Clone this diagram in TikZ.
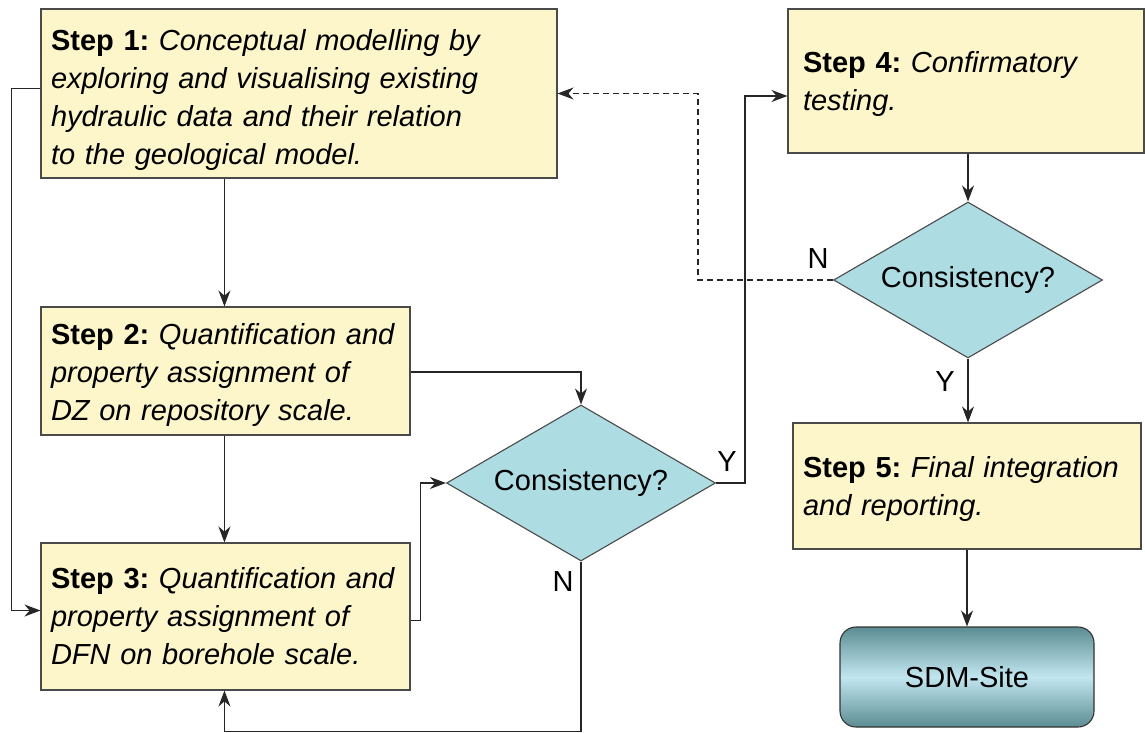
\documentclass[tikz,border=0pt]{standalone}
\usepackage{fontspec}
\setmainfont{Liberation Sans}
\usetikzlibrary{shapes.geometric,arrows.meta,calc}
\definecolor{boxyellow}{HTML}{FCF6CA}
\definecolor{boxedge}{HTML}{4A4A4A}
\definecolor{diafill}{HTML}{ADDCE2}
\definecolor{sdmdark}{HTML}{5C8D93}
\definecolor{sdmlight}{HTML}{C2E6F0}
\newcommand{\upr}[1]{\rule{0pt}{#1}}
\begin{document}
\frenchspacing
\begin{tikzpicture}[x=1pt,y=-1pt,
  font=\fontsize{29}{38}\selectfont,
  stepbox/.style={draw=boxedge,line width=1.1pt,fill=boxyellow,align=left,inner ysep=0pt,inner xsep=10pt},
  decision/.style={diamond,aspect=1.72,draw=boxedge,line width=1.1pt,fill=diafill,inner sep=0pt,minimum width=269pt,minimum height=156pt},
  arr/.style={line width=1.2pt,draw=black!85,-{Stealth[length=16pt,width=12pt]}},
  lbl/.style={inner sep=0pt}]
\useasboundingbox (0,0) rectangle (1145,733);

\node[stepbox,text width=496pt,minimum height=169pt] (s1) at (299,93.5)
  {\upr{35pt}\textbf{Step 1:} \textit{Conceptual modelling by}\\\textit{exploring and visualising existing}\\\textit{hydraulic data and their relation}\\\textit{to the geological model.}};
\node[stepbox,text width=349pt,minimum height=128pt] (s2) at (225.5,371)
  {\upr{29pt}\textbf{Step 2:} \textit{Quantification and}\\\textit{property assignment of}\\\textit{DZ on repository scale.}};
\node[stepbox,text width=349pt,minimum height=147pt] (s3) at (225.5,616.5)
  {\textbf{Step 3:} \textit{Quantification and}\\\textit{property assignment of}\\\textit{DFN on borehole scale.}};
\node[stepbox,inner xsep=15pt,text width=326pt,minimum height=144pt] (s4) at (966,81)
  {\upr{27pt}\textbf{Step 4:} \textit{Confirmatory}\\\textit{testing.}};
\node[stepbox,text width=328pt,minimum height=126pt] (s5) at (967,486)
  {\upr{27pt}\textbf{Step 5:} \textit{Final integration}\\\textit{and reporting.}};
\node[decision] (d1) at (581,483) {Consistency?};
\node[decision] (d2) at (968,280) {Consistency?};
\node[draw=black!80,line width=1.1pt,rounded corners=16pt,minimum width=254pt,minimum height=100pt,
  top color=sdmdark,bottom color=sdmdark,middle color=sdmlight] (sdm) at (967,677) {SDM-Site};

\node[lbl] (y1) at (727,462) {Y};
\node[lbl] (n1) at (563,582) {N};
\node[lbl] (n2) at (818,259) {N};
\node[lbl] (y2) at (945,382) {Y};

\draw[arr] ([xshift=184pt]s1.south west) -- ([xshift=184pt]s2.north west);
\draw[arr] ([xshift=184pt]s2.south west) -- ([xshift=184pt]s3.north west);
\draw[arr] ([yshift=5pt]s1.west) -- ++(-29,0) |- ([yshift=6pt]s3.west);
\draw[arr] ([yshift=-1pt]s2.east) -| (d1.north);
\draw[arr] ([yshift=-4pt]s3.east) -- ++(10,0) |- (d1.west);
\draw[arr] (d1.east) -- ++(29,0) |- ([yshift=-15pt]s4.west);
\draw[arr] (d1.south) -- ++(0,170) -| ([xshift=184pt]s3.south west);
\draw[arr] (s4.south -| d2.north) -- (d2.north);
\draw[arr,dashed,dash pattern=on 6pt off 4pt] (d2.west) -- ++(-135,0) |- (s1.east);
\draw[arr] (d2.south) -- (d2.south |- s5.north);
\draw[arr] (s5.south) -- (sdm.north);
\end{tikzpicture}
\end{document}
